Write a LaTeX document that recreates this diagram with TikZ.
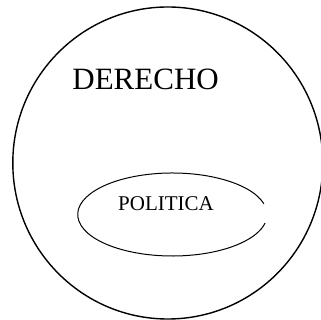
\documentclass[tikz,border=0pt]{standalone}
\usepackage{fontspec}
\setmainfont{Liberation Serif}
\begin{document}
\begin{tikzpicture}[x=1pt,y=1pt,
  lbl/.style={inner sep=0pt, anchor=base west, text=black}]
\useasboundingbox (0,0) rectangle (321,320);
\clip (0,0) rectangle (321,320);
\draw[line width=1.4pt] (167.8,157) ellipse[x radius=155, y radius=156];
\coordinate (ec) at (172.4,105.5);
\draw[line width=1.0pt] ([shift={(15:94.7 and 41.5)}]ec) arc[start angle=15, end angle=348, x radius=94.7, y radius=41.5];
\node[lbl, font=\fontsize{31}{31}\selectfont] (der) at (72.2,230) {DERECHO};
\node[lbl, font=\fontsize{21}{21}\selectfont] (pol) at (118,109.3) {POLITICA};
\end{tikzpicture}
\end{document}
